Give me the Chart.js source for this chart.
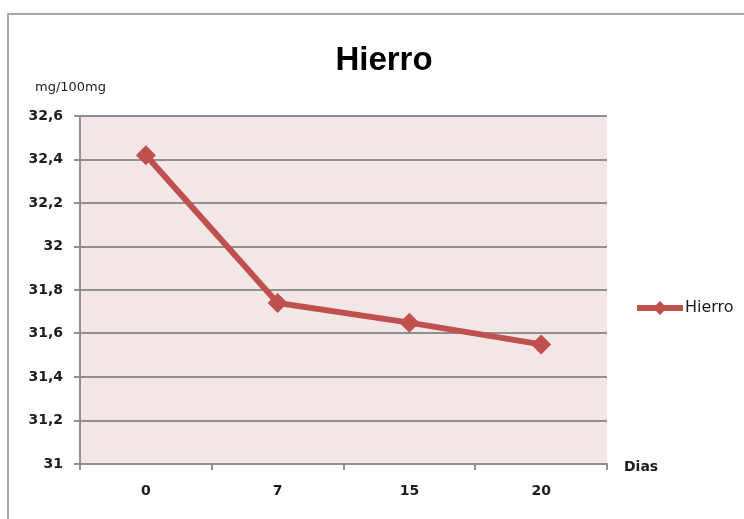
<!DOCTYPE html>
<html>
<head>
<meta charset="utf-8">
<title>Hierro</title>
<script src="https://cdn.jsdelivr.net/npm/chart.js@4/dist/chart.umd.min.js"></script>
<style>
  html, body { margin: 0; padding: 0; background: #ffffff; }
  canvas { display: block; }
</style>
</head>
<body>
<canvas id="chart" width="744" height="519"></canvas>
<script>
// Days of storage and iron content (mg/100mg)
const dias = ['0', '7', '15', '20'];
const hierro = [32.42, 31.74, 31.65, 31.55];
const yMin = 31;
const yMax = 32.6;
const yStep = 0.2;

const serieColor = '#c0504d';
const gridColor = '#909090';
const textColor = '#1c1c1c';

// Fill the plot area with the pale pink background before grid and line are drawn
const plotBackground = {
  id: 'plotBackground',
  beforeDraw(chart) {
    const { ctx, chartArea: a } = chart;
    ctx.save();
    ctx.fillStyle = '#f2e6e6';
    ctx.fillRect(a.left, a.top, a.right - a.left, a.bottom - a.top);
    ctx.restore();
  }
};

// Frame, title, axis captions and the legend entry
const decorations = {
  id: 'decorations',
  afterDraw(chart) {
    const { ctx } = chart;
    ctx.save();

    // outer frame (runs off the right and bottom edges)
    ctx.strokeStyle = '#a6a6a6';
    ctx.lineWidth = 2;
    ctx.strokeRect(8, 14, 800, 600);

    // title
    ctx.fillStyle = '#000000';
    ctx.font = 'bold 33px "Liberation Sans", Arial, sans-serif';
    ctx.textAlign = 'center';
    ctx.textBaseline = 'alphabetic';
    ctx.fillText('Hierro', 384, 70);

    // y axis caption
    ctx.fillStyle = textColor;
    ctx.font = '13px "DejaVu Sans", sans-serif';
    ctx.textAlign = 'left';
    ctx.textBaseline = 'middle';
    ctx.fillText('mg/100mg', 35, 88);

    // x axis caption
    ctx.font = 'bold 14px "DejaVu Sans", sans-serif';
    ctx.fillText('Dias', 624, 467);

    // legend entry
    const ds = chart.data.datasets[0];
    const ly = 308;
    ctx.strokeStyle = ds.borderColor;
    ctx.lineWidth = 6;
    ctx.beginPath();
    ctx.moveTo(637, ly);
    ctx.lineTo(683, ly);
    ctx.stroke();
    ctx.fillStyle = ds.borderColor;
    ctx.beginPath();
    ctx.moveTo(660, ly - 7);
    ctx.lineTo(667, ly);
    ctx.lineTo(660, ly + 7);
    ctx.lineTo(653, ly);
    ctx.closePath();
    ctx.fill();
    ctx.fillStyle = textColor;
    ctx.font = '16px "DejaVu Sans", sans-serif';
    ctx.textAlign = 'left';
    ctx.fillText(ds.label, 685, ly);

    ctx.restore();
  }
};

new Chart(document.getElementById('chart'), {
  type: 'line',
  data: {
    labels: dias,
    datasets: [{
      label: 'Hierro',
      data: hierro,
      borderColor: serieColor,
      backgroundColor: serieColor,
      borderWidth: 6,
      pointStyle: 'rectRot',
      pointRadius: 10,
      pointHoverRadius: 10,
      pointBorderWidth: 0,
      pointBackgroundColor: serieColor,
      tension: 0,
      fill: false
    }]
  },
  options: {
    responsive: false,
    devicePixelRatio: 1,
    animation: false,
    events: [],
    layout: { padding: { left: 0, top: 116, right: 137, bottom: 0 } },
    plugins: {
      legend: { display: false },
      title: { display: false },
      tooltip: { enabled: false }
    },
    scales: {
      x: {
        type: 'category',
        offset: true,
        afterFit(scale) { scale.height = 55; },
        grid: {
          offset: true,
          drawOnChartArea: false,
          drawTicks: true,
          tickLength: 6,
          color: gridColor,
          lineWidth: 2
        },
        border: { display: true, color: gridColor, width: 2 },
        ticks: {
          color: textColor,
          padding: 13,
          maxRotation: 0,
          font: { family: '"DejaVu Sans", sans-serif', size: 14, weight: 'bold' }
        }
      },
      y: {
        min: yMin,
        max: yMax,
        afterFit(scale) { scale.width = 80; },
        grid: {
          drawOnChartArea: true,
          drawTicks: true,
          tickLength: 6,
          color: gridColor,
          lineWidth: 2
        },
        border: { display: true, color: gridColor, width: 2 },
        ticks: {
          stepSize: yStep,
          color: textColor,
          padding: 11,
          font: { family: '"DejaVu Sans", sans-serif', size: 14, weight: 'bold' },
          callback(value) {
            return String(Math.round(value * 10) / 10).replace('.', ',');
          }
        }
      }
    }
  },
  plugins: [plotBackground, decorations]
});
</script>
</body>
</html>
